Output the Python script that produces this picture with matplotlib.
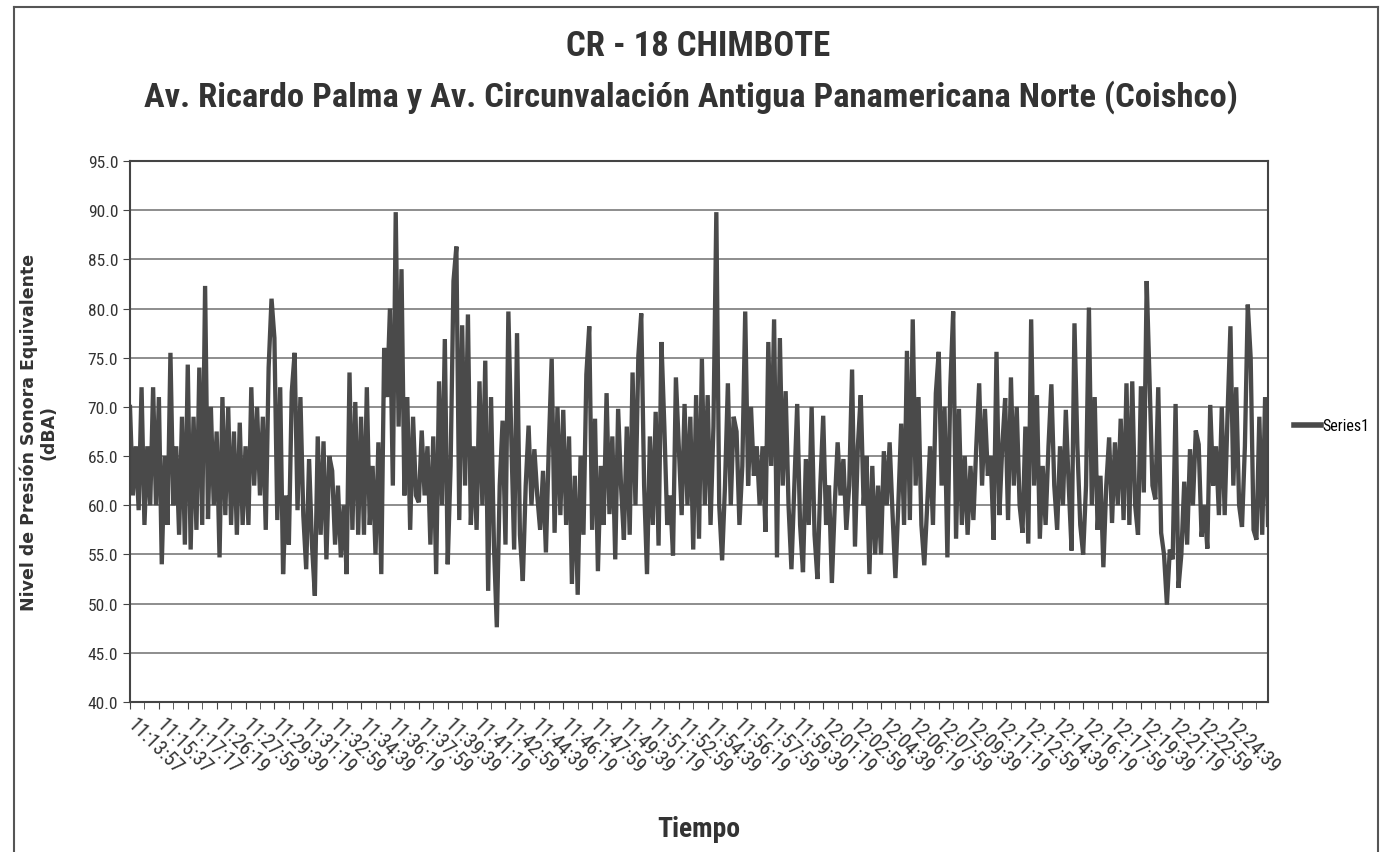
import numpy as np
import matplotlib.pyplot as plt
from matplotlib import font_manager as fm
from matplotlib.lines import Line2D

# equivalent sound pressure level, one reading every 10 samples (dBA)
nivel = [
    70, 61, 66, 59.5, 72, 58, 66, 60, 72, 60,
    71, 54, 65, 58, 75.5, 60, 66, 57, 69, 56,
    74.3, 55.5, 69, 57.5, 74, 58, 82.3, 58.6, 70, 60,
    67.5, 54.7, 71, 59, 70, 58, 67.5, 57, 68.4, 58,
    66, 58, 72, 62, 70, 61, 69, 57.5, 74, 81,
    77, 58.5, 72, 53, 61, 56, 71.5, 75.5, 59.5, 71,
    59, 53.5, 64.7, 56, 50.8, 67, 57, 66.5, 54.5, 65,
    63.5, 56, 62, 54.7, 60, 53, 73.5, 57.5, 70.5, 57,
    69, 57, 72, 58, 64, 55, 66.4, 53, 76, 71,
    80, 62, 89.8, 68, 84, 61, 71, 57.5, 69, 61,
    60.3, 67.6, 61, 66, 56, 67, 53, 72.6, 60, 76.9,
    54, 64, 82.8, 86.3, 58.5, 78.3, 62, 79.4, 58, 66,
    57.5, 72.6, 60, 74.7, 51.3, 71, 56, 47.6, 62, 68.6,
    56, 79.7, 67, 55.5, 77.5, 57, 52.3, 62, 68.1, 60,
    65.7, 61, 57.5, 63.5, 55.2, 66, 74.9, 57.2, 70, 59,
    69.7, 58, 67, 52, 63, 50.9, 65, 57, 73.3, 78.2,
    57.5, 68.8, 53.3, 64, 58, 71.4, 59.1, 67, 54.5, 69.8,
    62, 56.5, 68, 57, 73.5, 60, 75.2, 79.5, 62, 53,
    67, 58, 69.5, 55.9, 76.6, 68, 58, 61, 54.9, 73,
    66, 59, 70.3, 60, 69, 55.5, 71.2, 56.6, 74.9, 60,
    71.2, 58, 68, 89.8, 60, 54.4, 62, 72.4, 60, 69,
    67.5, 58, 64, 79.7, 62, 70, 63, 66, 60, 66,
    57.3, 76.6, 64, 78.9, 54.7, 77, 62, 71.6, 60, 53.5,
    62, 70.3, 58, 53.2, 64.7, 58, 70, 57, 52.5, 62,
    69.1, 58, 62, 52.1, 60, 66.4, 61, 64.7, 57.5, 62,
    73.8, 55.8, 66, 71.2, 60, 65, 53, 64, 55, 62,
    55, 65.5, 60, 66.4, 59.2, 52.6, 60, 68.3, 58, 75.7,
    58.5, 78.9, 62, 71, 58, 53.9, 60, 66, 58, 71.4,
    75.6, 62, 70, 54.7, 72, 79.7, 56.6, 69.8, 58, 65,
    57, 64, 58.5, 66, 72.4, 62, 69.8, 63, 65, 56.5,
    75.6, 59, 66, 70.9, 58.5, 73, 62, 70, 60, 57.2,
    68, 56.1, 78.9, 62, 71.2, 56.6, 64, 58, 66, 72.3,
    62, 57.5, 66, 60, 69.7, 62, 55.4, 78.5, 66, 58,
    55, 62, 80.1, 60, 71, 57.5, 63, 53.7, 62, 66.9,
    58.2, 66.4, 60, 68.8, 58.5, 72.4, 58, 72.6, 60, 57,
    72.1, 61.3, 82.8, 72.6, 62, 60.6, 72, 57.2, 55, 49.9,
    55.5, 54.5, 70.3, 51.6, 55, 62.4, 56, 65.7, 60, 67.6,
    66.2, 56.8, 60, 55.6, 70.2, 62, 66, 59, 70, 59,
    69.3, 78.2, 62, 72, 60, 57.8, 66, 80.4, 75, 57.5,
    56.5, 69, 57, 71, 58,
]
paso = 10  # samples between readings

etiquetas = [
    '11:13:57', '11:15:37', '11:17:17', '11:26:19', '11:27:59', '11:29:39',
    '11:31:19', '11:32:59', '11:34:39', '11:36:19', '11:37:59', '11:39:39',
    '11:41:19', '11:42:59', '11:44:39', '11:46:19', '11:47:59', '11:49:39',
    '11:51:19', '11:52:59', '11:54:39', '11:56:19', '11:57:59', '11:59:39',
    '12:01:19', '12:02:59', '12:04:39', '12:06:19', '12:07:59', '12:09:39',
    '12:11:19', '12:12:59', '12:14:39', '12:16:19', '12:17:59', '12:19:39',
    '12:21:19', '12:22:59', '12:24:39',
]
cada = 100  # samples between labels

titulo1 = 'CR - 18 CHIMBOTE'
titulo2 = 'Av. Ricardo Palma y Av. Circunvalación Antigua Panamericana Norte (Coishco)'

# pick a narrow face if one is installed, else plain Liberation Sans
nombres = {f.name for f in fm.fontManager.ttflist}
narrow_name = 'Liberation Sans'
condensado = False
for n in ['Liberation Sans Narrow', 'Roboto Condensed', 'Open Sans Condensed',
          'DejaVu Sans Condensed', 'Noto Sans Condensed']:
    if n in nombres:
        narrow_name = n
        condensado = True
        break
narrow = [narrow_name, 'DejaVu Sans']
k = 1.0 if condensado else 0.82  # shrink text a bit for a wide face

fig = plt.figure(figsize=(13.83, 8.53), dpi=100)
ax = fig.add_axes([130 / 1383, 1 - 703 / 853, 1138 / 1383, 541 / 853])

x = np.arange(len(nivel)) * paso
ax.plot(x, nivel, color='#4a4a4a', lw=3.1, solid_joinstyle='miter')

ax.set_xlim(0, x[-1])
ax.set_ylim(40, 95)
ax.set_yticks(np.arange(40, 95.1, 5))
ax.set_yticklabels([f'{v:.1f}' for v in np.arange(40, 95.1, 5)],
                   family=narrow, fontsize=12.5 * k, color='#333333')
ax.yaxis.grid(True, color='#858585', lw=1.3)
ax.set_axisbelow(True)

ax.set_xticks(np.arange(len(etiquetas)) * cada)
ax.set_xticklabels(etiquetas, rotation=-45, ha='left', va='center',
                   rotation_mode='anchor', family=narrow, fontsize=14.5 * k,
                   color='#333333')
ax.set_xticks(np.arange(0, x[-1] + 1, cada // 2), minor=True)
ax.tick_params(axis='x', which='both', length=5, direction='out', color='#444444', pad=9)
ax.tick_params(axis='y', length=5, direction='out', color='#444444')
for s in ax.spines.values():
    s.set_color('#444444')
    s.set_linewidth(1.5)

ax.set_ylabel('Nivel de Presión Sonora Equivalente\n(dBA)', fontsize=12.5,
              fontweight='bold', color='#333333', labelpad=22, linespacing=1.05)
ax.set_xlabel('Tiempo', family=narrow, fontsize=20 * k, fontweight='bold',
              color='#333333', va='center')
ax.xaxis.set_label_coords(0.5, -(830 - 703) / 541)

fig.text(698 / 1383, 1 - 47 / 853, titulo1, ha='center', va='center', family=narrow,
         fontsize=25 * k, fontweight='bold', color='#333333')
fig.text(691 / 1383, 1 - 97 / 853, titulo2, ha='center', va='center', family=narrow,
         fontsize=24.8 * k * (1.0 if condensado else 0.85), fontweight='bold',
         color='#333333')

# legend outside the plot area
h = Line2D([], [], color='#4a4a4a', lw=4)
fig.legend([h], ['Series1'], loc='center left', bbox_to_anchor=(1294 / 1383, 1 - 427 / 853),
           frameon=False, handlelength=1.7, handletextpad=0.05, borderpad=0,
           borderaxespad=0, prop={'family': narrow, 'size': 11.5 * k})

# outer chart frame
for xs, ys in [([14 / 1383, 14 / 1383], [0, 1 - 8 / 853]),
               ([14 / 1383, 1378 / 1383], [1 - 8 / 853, 1 - 8 / 853]),
               ([1378 / 1383, 1378 / 1383], [0, 1 - 8 / 853])]:
    fig.add_artist(Line2D(xs, ys, color='#555555', lw=1.5, transform=fig.transFigure))

fig.savefig('out.png', dpi=100)
